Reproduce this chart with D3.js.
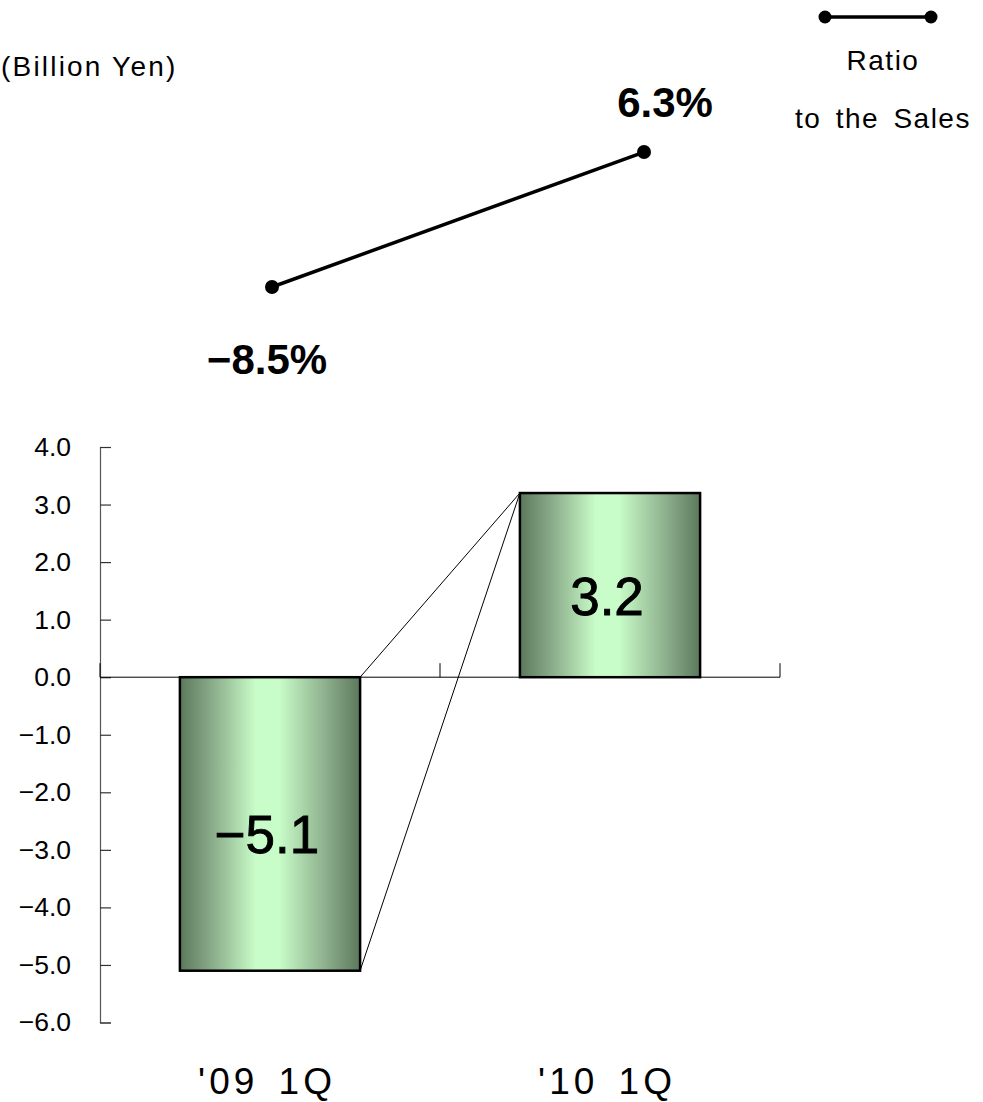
<!DOCTYPE html>
<html>
<head>
<meta charset="utf-8">
<script src="https://cdn.jsdelivr.net/npm/d3@7"></script>
<style>
  html, body { margin: 0; padding: 0; background: #fff; }
  svg { display: block; }
  text { font-family: "Liberation Sans", Arial, sans-serif; fill: #000; }
</style>
</head>
<body>
<div id="chart"></div>
<script>
// Quarterly operating income (billion yen) and its ratio to sales
const categories = ["'09 1Q", "'10 1Q"];
const incomeValues = [-5.1, 3.2];
const ratioValues = [-8.5, 6.3];
const yTicks = [-6, -5, -4, -3, -2, -1, 0, 1, 2, 3, 4];
const unitLabel = "(Billion Yen)";
const legendLines = ["Ratio", "to the Sales"];

const W = 983, H = 1102;
const svg = d3.select("#chart").append("svg")
  .attr("width", W).attr("height", H);

// bar gradient: dark green edges, pale green centre
const defs = svg.append("defs");
const grad = defs.append("linearGradient")
  .attr("id", "barFill").attr("x1", "0%").attr("x2", "100%").attr("y1", "0%").attr("y2", "0%");
[[0, "#5c785c"], [0.2, "#8fb28f"], [0.42, "#c8fcc8"], [0.55, "#c8fcc8"], [0.8, "#8fb28f"], [1, "#5c785c"]]
  .forEach(([o, c]) => grad.append("stop").attr("offset", o).attr("stop-color", c));

// scales
const x = d3.scaleBand().domain(categories).range([100, 780])
  .paddingInner(0.47).paddingOuter(0.235);
const y = d3.scaleLinear().domain([-6, 4]).range([1022.5, 447]);

const xr = d3.scalePoint().domain(categories).range([272, 644]);
const yr = d3.scaleLinear().domain([-10, 10]).range([300.7, 118.3]);

const fmt = d3.format(".1f");

// unit label
svg.append("text").attr("x", 1).attr("y", 76)
  .style("font-size", "28px").style("letter-spacing", "2.2px").text(unitLabel);

// y axis
const yAxis = svg.append("g").attr("transform", "translate(100,0)")
  .call(d3.axisLeft(y).tickValues(yTicks).tickSize(-11).tickPadding(29).tickFormat(fmt));
yAxis.select(".domain").attr("stroke", "#555").attr("stroke-width", 1.2);
yAxis.selectAll(".tick line").attr("stroke", "#333").attr("stroke-width", 1.2);
yAxis.selectAll(".tick text")
  .style("font-family", "'Liberation Sans', Arial, sans-serif")
  .style("font-size", "26.5px").attr("fill", "#000");

// bars
const data = categories.map((c, i) => ({ cat: c, v: incomeValues[i], r: ratioValues[i] }));
svg.append("g").selectAll("rect").data(data).join("rect")
  .attr("x", d => x(d.cat))
  .attr("y", d => y(Math.max(0, d.v)))
  .attr("width", x.bandwidth())
  .attr("height", d => Math.abs(y(d.v) - y(0)))
  .attr("fill", "url(#barFill)")
  .attr("stroke", "#000").attr("stroke-width", 2.5);

// series lines joining the bar ends
const b0 = data[0], b1 = data[1];
const sl = svg.append("g").attr("stroke", "#000").attr("stroke-width", 1);
[[0, b1.v], [b0.v, b1.v]].forEach(([from, to]) => {
  sl.append("line")
    .attr("x1", x(b0.cat) + x.bandwidth()).attr("y1", y(from))
    .attr("x2", x(b1.cat)).attr("y2", y(to));
});

// zero baseline with category separators
const xAxisG = svg.append("g");
xAxisG.append("line").attr("x1", x.range()[0]).attr("x2", x.range()[1])
  .attr("y1", y(0)).attr("y2", y(0)).attr("stroke", "#000").attr("stroke-width", 1);
const seps = d3.range(categories.length + 1).map(i => x.range()[0] + i * x.step());
xAxisG.selectAll("line.sep").data(seps).join("line").attr("class", "sep")
  .attr("x1", d => d).attr("x2", d => d)
  .attr("y1", y(0)).attr("y2", y(0) - 14)
  .attr("stroke", "#000").attr("stroke-width", 1);

// value labels inside bars
svg.append("g").selectAll("text").data(data).join("text")
  .attr("x", d => x(d.cat) + x.bandwidth() / 2 - 3)
  .attr("y", d => (y(d.v) + y(0)) / 2 + 11)
  .attr("text-anchor", "middle").attr("dominant-baseline", "central")
  .style("font-size", "53px")
  .attr("stroke", "#000").attr("stroke-width", 0.9)
  .text(d => fmt(d.v));

// category labels
svg.append("g").selectAll("text").data(data).join("text")
  .attr("x", d => x(d.cat) + x.bandwidth() / 2 - 3)
  .attr("y", 1094)
  .attr("text-anchor", "middle")
  .style("font-size", "37px").style("letter-spacing", "4px").style("word-spacing", "6px")
  .text(d => d.cat);

// ratio line
svg.append("path").datum(data)
  .attr("fill", "none").attr("stroke", "#000").attr("stroke-width", 3.5)
  .attr("d", d3.line().x(d => xr(d.cat)).y(d => yr(d.r)));
svg.append("g").selectAll("circle").data(data).join("circle")
  .attr("cx", d => xr(d.cat)).attr("cy", d => yr(d.r)).attr("r", 7);

// ratio labels: below for negative, above for positive
const ratioLabelOffset = [[-5, 87], [21, -35]];
svg.append("g").selectAll("text").data(data).join("text")
  .attr("x", (d, i) => xr(d.cat) + ratioLabelOffset[i][0])
  .attr("y", (d, i) => yr(d.r) + ratioLabelOffset[i][1])
  .attr("text-anchor", "middle")
  .style("font-size", "42px").style("font-weight", "bold")
  .text(d => fmt(d.r) + "%");

// legend
const lg = svg.append("g");
lg.append("line").attr("x1", 825).attr("x2", 931).attr("y1", 17).attr("y2", 17)
  .attr("stroke", "#000").attr("stroke-width", 3.5);
lg.selectAll("circle").data([825, 931]).join("circle")
  .attr("cx", d => d).attr("cy", 17).attr("r", 6.5);
lg.selectAll("text").data(legendLines).join("text")
  .attr("x", 883).attr("y", (d, i) => 70 + i * 58)
  .attr("text-anchor", "middle").style("font-size", "28px")
  .style("letter-spacing", "1.5px").style("word-spacing", "5px")
  .text(d => d);
</script>
</body>
</html>
